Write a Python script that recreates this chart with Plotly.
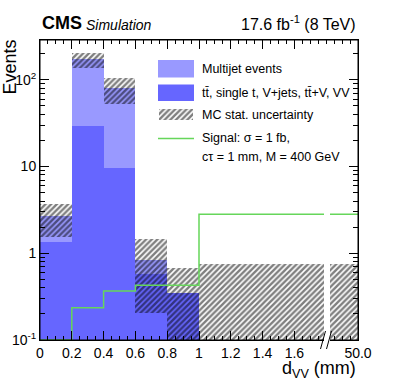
import plotly.graph_objects as go

# bins (the last displayed bin 1-2 stands for 1-50 mm, broken axis)
bin_lo = [0.0, 0.2, 0.4, 0.6, 0.8, 1.0]
bin_hi = [0.2, 0.4, 0.6, 0.8, 1.0, 2.0]
x_tickvals = [0, 0.2, 0.4, 0.6, 0.8, 1.0, 1.2, 1.4, 1.6, 2.0]
x_ticktext = ["0", "0.2", "0.4", "0.6", "0.8", "1", "1.2", "1.4", "1.6", "50.0"]

# background and signal yields
ttbar = [1.36, 29.4, 9.6, 0.57, 0.35, 0.0]
multijet = [1.33, 144.0, 70.6, 0.27, 0.0, 0.0]
unc_hi = [3.74, 203.0, 106.0, 1.45, 0.68, 0.75]
unc_lo = [1.54, 136.0, 52.8, 0.207, 0.0, 0.0]
signal = [0.1, 0.236, 0.367, 0.427, 0.427, 2.82]

y_tickvals = [0.1, 1, 10, 100]
y_ticktext = ["10<sup>-1</sup>", "1", "10", "10<sup>2</sup>"]

FONT = "Liberation Sans, Arial, Helvetica, sans-serif"
C_MJ = "#9999ff"
C_TT = "#6666ff"
C_SIG = "#66d65a"
HATCH = dict(shape="/", fgcolor="black", bgcolor="rgba(0,0,0,0)",
             size=4, solidity=0.6, fillmode="overlay")

centers = [(a + b) / 2 for a, b in zip(bin_lo, bin_hi)]
widths = [b - a for a, b in zip(bin_lo, bin_hi)]
total = [t + m for t, m in zip(ttbar, multijet)]

fig = go.Figure()

# stack: total (multijet on top) then ttbar in front
fig.add_trace(go.Bar(x=centers, y=total, width=widths, marker_color=C_MJ,
                     marker_line_width=0, showlegend=False))
fig.add_trace(go.Bar(x=centers, y=ttbar, width=widths, marker_color=C_TT,
                     marker_line_width=0, showlegend=False))

# MC stat uncertainty band
base = [lo if lo > 0 else 1e-3 for lo in unc_lo]
fig.add_trace(go.Bar(
    x=centers, y=[h - b for h, b in zip(unc_hi, base)], base=base, width=widths,
    marker=dict(color="rgba(0,0,0,0)", line_width=0, pattern=HATCH),
    showlegend=False))

# signal step line
fig.add_trace(go.Scatter(
    x=bin_lo + [bin_hi[-1]], y=signal + [signal[-1]], mode="lines",
    line=dict(color=C_SIG, width=1.5, shape="hv"), showlegend=False))

# legend hatched swatch on its own small axes
fig.add_trace(go.Bar(
    x=[0], y=[1], width=[1], xaxis="x2", yaxis="y2",
    marker=dict(color="rgba(0,0,0,0)", line_width=0, pattern=HATCH),
    showlegend=False))

L, T, W, H = 40, 40, 318, 300


def px(x):
    return (x - L) / W


def py(y):
    return (T + H - y) / H


shapes = []
# legend swatches
shapes.append(dict(type="rect", xref="paper", yref="paper", x0=px(158), x1=px(194),
                   y0=py(77.5), y1=py(60), fillcolor=C_MJ, line_width=0))
shapes.append(dict(type="rect", xref="paper", yref="paper", x0=px(158), x1=px(194),
                   y0=py(101), y1=py(84.5), fillcolor=C_TT, line_width=0))
shapes.append(dict(type="line", xref="paper", yref="paper", x0=px(158), x1=px(194),
                   y0=py(138.5), y1=py(138.5), line=dict(color=C_SIG, width=1.5)))
# frame
shapes.append(dict(type="rect", xref="paper", yref="paper", x0=0, x1=1, y0=0, y1=1,
                   line=dict(color="black", width=1), fillcolor="rgba(0,0,0,0)",
                   layer="above"))
# axis break
shapes.append(dict(type="rect", xref="paper", yref="paper", x0=px(324), x1=px(330),
                   y0=py(343), y1=py(200), fillcolor="white", line_width=0, layer="above"))
for x0 in (320.5, 326.5):
    shapes.append(dict(type="line", xref="paper", yref="paper", x0=px(x0), x1=px(x0 + 5),
                       y0=py(349), y1=py(331), line=dict(color="black", width=1), layer="above"))

ann = []
ann.append(dict(text="<b>CMS</b>", x=0, y=py(35), xref="paper", yref="paper",
                xanchor="left", yanchor="bottom", showarrow=False,
                font=dict(family=FONT, size=18, color="black")))
ann.append(dict(text="<i>Simulation</i>", x=px(84), y=py(35), xref="paper", yref="paper",
                xanchor="left", yanchor="bottom", showarrow=False,
                font=dict(family=FONT, size=14, color="black")))
ann.append(dict(text="17.6 fb<sup>-1</sup> (8 TeV)", x=1, y=py(35), xref="paper", yref="paper",
                xanchor="right", yanchor="bottom", showarrow=False,
                font=dict(family=FONT, size=16, color="black")))
ann.append(dict(text="Events", x=px(9), y=py(37), xref="paper", yref="paper",
                xanchor="center", yanchor="top", textangle=-90, showarrow=False,
                font=dict(family=FONT, size=18, color="black")))
ann.append(dict(text="d<sub>VV</sub> (mm)", x=1, y=py(369), xref="paper", yref="paper",
                xanchor="right", yanchor="middle", showarrow=False,
                font=dict(family=FONT, size=18, color="black")))

leg = [("Multijet events", 69), ("tt̄, single t, V+jets, tt̄+V, VV", 93),
       ("MC stat. uncertainty", 115), ("Signal: σ = 1 fb,", 138),
       ("cτ = 1 mm, M = 400 GeV", 157)]
for txt, yy in leg:
    ann.append(dict(text=txt, x=px(200), y=py(yy), xref="paper", yref="paper",
                    xanchor="left", yanchor="middle", showarrow=False,
                    font=dict(family=FONT, size=12.5, color="black")))

fig.update_layout(
    width=399, height=387,
    margin=dict(l=L, r=399 - L - W, t=T, b=387 - T - H, autoexpand=False),
    paper_bgcolor="white", plot_bgcolor="white",
    barmode="overlay", bargap=0,
    shapes=shapes, annotations=ann,
    font=dict(family=FONT, size=14, color="black"),
    xaxis=dict(range=[0, 2.0], tickmode="array", tickvals=x_tickvals, ticktext=x_ticktext,
               ticks="inside", ticklen=9, tickcolor="black", showgrid=False, zeroline=False,
               automargin=False, showline=True, linecolor="black", linewidth=1,
               mirror="allticks", tickfont=dict(family=FONT, size=14),
               minor=dict(ticks="inside", dtick=0.05, tick0=0, ticklen=4, tickcolor="black")),
    yaxis=dict(type="log", range=[-1, 2.46], tickmode="array", tickvals=y_tickvals,
               ticktext=y_ticktext, ticks="inside", ticklen=9, tickcolor="black",
               showgrid=False, zeroline=False, automargin=False, showline=True,
               linecolor="black", linewidth=1, mirror="allticks",
               tickfont=dict(family=FONT, size=14),
               minor=dict(ticks="inside", ticklen=5, tickcolor="black", tickmode="array",
                          tickvals=[k * 10 ** e for e in (-1, 0, 1, 2) for k in range(2, 10)])),
    xaxis2=dict(domain=[px(159), px(193)], range=[-0.5, 0.5], visible=False, anchor="y2"),
    yaxis2=dict(domain=[py(120), py(108.5)], range=[0, 1], visible=False, anchor="x2"),
)

fig.write_html("out.html", config={"displayModeBar": False},
               post_script="document.body.style.margin='0';")
